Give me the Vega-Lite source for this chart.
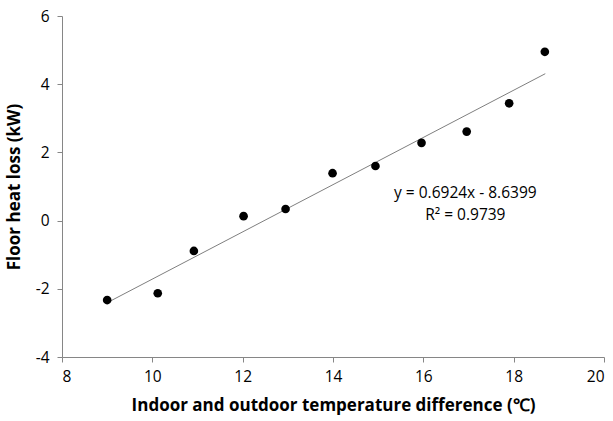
{
  "$schema": "https://vega.github.io/schema/vega-lite/v6.json",
  "width": 542,
  "height": 341,
  "autosize": {"type": "none"},
  "padding": {"left": 62, "top": 16, "right": 9, "bottom": 64},
  "background": "white",
  "config": {
    "view": {"stroke": null},
    "font": "Open Sans",
    "axis": {
      "grid": false,
      "domainColor": "#868686",
      "tickColor": "#868686",
      "tickSize": 5,
      "labelFont": "Open Sans",
      "labelFontSize": 15.5,
      "labelColor": "#000000",
      "titleFont": "Open Sans",
      "titleFontSize": 17,
      "titleFontWeight": "bold",
      "titleColor": "#000000"
    }
  },
  "datasets": {
    "points": [
      {"x": 9.0, "y": -2.33},
      {"x": 10.12, "y": -2.13},
      {"x": 10.92, "y": -0.89},
      {"x": 12.02, "y": 0.13},
      {"x": 12.95, "y": 0.34},
      {"x": 13.99, "y": 1.39},
      {"x": 14.94, "y": 1.6},
      {"x": 15.96, "y": 2.28},
      {"x": 16.96, "y": 2.61},
      {"x": 17.9, "y": 3.44},
      {"x": 18.69, "y": 4.95}
    ],
    "trend": [
      {"x": 9.0, "y": -2.408},
      {"x": 18.7, "y": 4.308}
    ],
    "labels": [
      {"x": 16.93, "y": 0.81, "text": "y = 0.6924x - 8.6399"},
      {"x": 16.93, "y": 0.17, "text": "R² = 0.9739"}
    ]
  },
  "layer": [
    {
      "data": {"name": "trend"},
      "mark": {"type": "line", "color": "#7f7f7f", "strokeWidth": 1},
      "encoding": {
        "x": {
          "field": "x", "type": "quantitative",
          "scale": {"domain": [8, 20], "nice": false, "zero": false},
          "axis": {"values": [8, 10, 12, 14, 16, 18, 20], "title": "Indoor and outdoor temperature difference (℃)", "labelPadding": 7, "titlePadding": 13}
        },
        "y": {
          "field": "y", "type": "quantitative",
          "scale": {"domain": [-4, 6], "nice": false, "zero": false},
          "axis": {"values": [-4, -2, 0, 2, 4, 6], "title": "Floor heat loss (kW)", "labelPadding": 8, "titlePadding": 12, "labelExpr": "datum.value < 0 ? '-' + abs(datum.value) : '' + datum.value"}
        }
      }
    },
    {
      "data": {"name": "points"},
      "mark": {"type": "point", "shape": "circle", "filled": true, "color": "#000000", "size": 75, "opacity": 1},
      "encoding": {
        "x": {"field": "x", "type": "quantitative"},
        "y": {"field": "y", "type": "quantitative"}
      }
    },
    {
      "data": {"name": "labels"},
      "mark": {"type": "text", "font": "Open Sans", "fontSize": 15.5, "color": "#000000", "align": "center", "baseline": "middle"},
      "encoding": {
        "x": {"field": "x", "type": "quantitative"},
        "y": {"field": "y", "type": "quantitative"},
        "text": {"field": "text"}
      }
    }
  ]
}
